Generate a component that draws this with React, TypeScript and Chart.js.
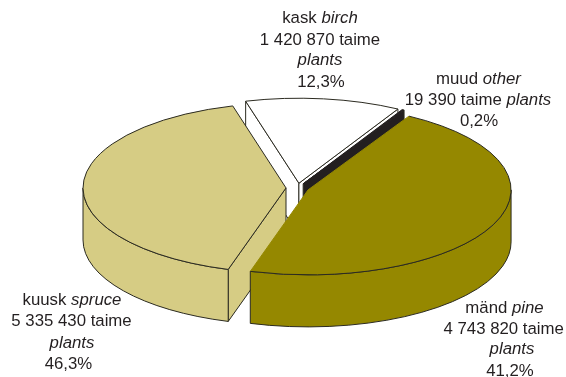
import React, { useEffect, useRef } from "react";
import { Chart, registerables } from "chart.js";

Chart.register(...registerables);

// Slice order as drawn, clockwise from the upper right.
const categories = ["mänd", "kuusk", "kask", "muud"];
// The pine sector in the picture is the larger one (about 167 deg) and the spruce
// sector the smaller (about 148 deg), although the printed labels say the opposite.
// The sector sizes below follow the picture; the label text follows the print.
const drawnValues = [5335430, 4743820, 1420870, 19390];
const topColors = ["#958800", "#d6cc84", "#ffffff", "#231f20"];
const cutEdgeColors = ["#958800", "#2b2a20", "#2b2a20", "#231f20"];

type Seg = { t: string; i?: boolean };
const labelTexts: Seg[][][] = [
  [[{ t: "kask " }, { t: "birch", i: true }], [{ t: "1 420 870 taime" }], [{ t: "plants", i: true }], [{ t: "12,3%" }]],
  [[{ t: "muud " }, { t: "other", i: true }], [{ t: "19 390 taime " }, { t: "plants", i: true }], [{ t: "0,2%" }]],
  [[{ t: "mänd " }, { t: "pine", i: true }], [{ t: "4 743 820 taime" }], [{ t: "plants", i: true }], [{ t: "41,2%" }]],
  [[{ t: "kuusk " }, { t: "spruce", i: true }], [{ t: "5 335 430 taime" }], [{ t: "plants", i: true }], [{ t: "46,3%" }]],
];
// [centre x, baseline y] of every label line
const labelPlaces: number[][][] = [
  [[320, 23], [320, 45], [320, 65], [321, 87]],
  [[478.5, 84], [478, 105], [479, 126]],
  [[504.5, 313], [503.7, 334], [512, 354], [510, 376]],
  [[72, 305], [71.5, 326], [72, 348], [68.5, 369]],
];

const CENTER_X = 297.5;
const CENTER_Y = 188;
const RX = 203;
const RY = 85;
const EXPLODE = 11.5;
const DEPTH = 52;
const FONT_SIZE = 16.8;
const FONT = "Liberation Sans, Arial, sans-serif";
const OUTLINE = "#2b2a20";

function geom(el: any) {
  const mid = (el.startAngle + el.endAngle) / 2;
  return {
    ax: CENTER_X + Math.cos(mid) * EXPLODE,
    ay: CENTER_Y + (Math.sin(mid) * EXPLODE * RY) / RX,
    a1: el.startAngle,
    a2: el.endAngle,
  };
}

function cutWall(ctx: CanvasRenderingContext2D, ax: number, ay: number, a: number, fill: string) {
  const px = ax + Math.cos(a) * RX;
  const py = ay + Math.sin(a) * RY;
  ctx.beginPath();
  ctx.moveTo(ax, ay);
  ctx.lineTo(px, py);
  ctx.lineTo(px, py + DEPTH);
  ctx.lineTo(ax, ay + DEPTH);
  ctx.closePath();
  ctx.fillStyle = fill;
  ctx.fill();
  ctx.stroke();
}

const pie3d = {
  id: "pie3d",
  beforeDatasetsDraw(chart: any) {
    const ctx: CanvasRenderingContext2D = chart.ctx;
    const arcs = chart.getDatasetMeta(0).data;
    ctx.save();
    ctx.lineWidth = 1;
    ctx.strokeStyle = OUTLINE;
    ctx.lineJoin = "round";
    // walls: back slices first, front ones last
    for (const i of [2, 3, 1, 0]) {
      const { ax, ay, a1, a2 } = geom(arcs[i]);
      const fill = topColors[i];
      if (Math.cos(a1) < 0) cutWall(ctx, ax, ay, a1, fill);
      if (Math.cos(a2) > 0) cutWall(ctx, ax, ay, a2, fill);
      // visible part of the rim: the half of the ellipse that faces the viewer
      const ranges = [[a1, a2], [a1 - 2 * Math.PI, a2 - 2 * Math.PI]];
      for (const [s, e] of ranges) {
        const from = Math.max(s, 0);
        const to = Math.min(e, Math.PI);
        if (to <= from) continue;
        ctx.beginPath();
        ctx.ellipse(ax, ay, RX, RY, 0, from, to);
        ctx.ellipse(ax, ay + DEPTH, RX, RY, 0, to, from, true);
        ctx.closePath();
        ctx.fillStyle = fill;
        ctx.fill();
        ctx.stroke();
      }
    }
    // tops: the library's own arc elements, flattened onto the ellipse and pulled apart
    arcs.forEach((el: any) => {
      const { ax, ay } = geom(el);
      ctx.save();
      ctx.translate(ax, ay);
      ctx.scale(RX / el.outerRadius, RY / el.outerRadius);
      ctx.translate(-el.x, -el.y);
      el.draw(ctx);
      ctx.restore();
    });
    // top outlines
    arcs.forEach((el: any, i: number) => {
      const { ax, ay, a1, a2 } = geom(el);
      ctx.strokeStyle = cutEdgeColors[i];
      ctx.beginPath();
      ctx.moveTo(ax + Math.cos(a1) * RX, ay + Math.sin(a1) * RY);
      ctx.lineTo(ax, ay);
      ctx.lineTo(ax + Math.cos(a2) * RX, ay + Math.sin(a2) * RY);
      ctx.stroke();
      ctx.strokeStyle = OUTLINE;
      ctx.beginPath();
      ctx.ellipse(ax, ay, RX, RY, 0, a1, a2);
      ctx.stroke();
    });
    // labels
    ctx.fillStyle = "#231f20";
    ctx.textBaseline = "alphabetic";
    ctx.textAlign = "left";
    labelTexts.forEach((block, bi) => {
      block.forEach((line, li) => {
        const fontOf = (s: Seg) => `${s.i ? "italic " : ""}${FONT_SIZE}px ${FONT}`;
        let w = 0;
        for (const s of line) {
          ctx.font = fontOf(s);
          w += ctx.measureText(s.t).width;
        }
        const [cx, y] = labelPlaces[bi][li];
        let x = cx - w / 2;
        for (const s of line) {
          ctx.font = fontOf(s);
          ctx.fillText(s.t, x, y);
          x += ctx.measureText(s.t).width;
        }
      });
    });
    ctx.restore();
    return false; // everything is painted above
  },
};

export default function App() {
  const ref = useRef<HTMLCanvasElement>(null);
  useEffect(() => {
    const chart = new Chart(ref.current as HTMLCanvasElement, {
      type: "pie",
      data: {
        labels: categories,
        datasets: [
          {
            data: drawnValues,
            backgroundColor: topColors,
            borderWidth: 0,
          },
        ],
      },
      options: {
        responsive: false,
        animation: false,
        rotation: 29.8,
        layout: { padding: 0 },
        plugins: { legend: { display: false }, tooltip: { enabled: false } },
      },
      plugins: [pie3d],
    });
    return () => chart.destroy();
  }, []);
  return (
    <div style={{ position: "absolute", left: 0, top: 0, width: 566, height: 377, background: "#fff" }}>
      <canvas ref={ref} width={566} height={377} style={{ display: "block" }} />
    </div>
  );
}
